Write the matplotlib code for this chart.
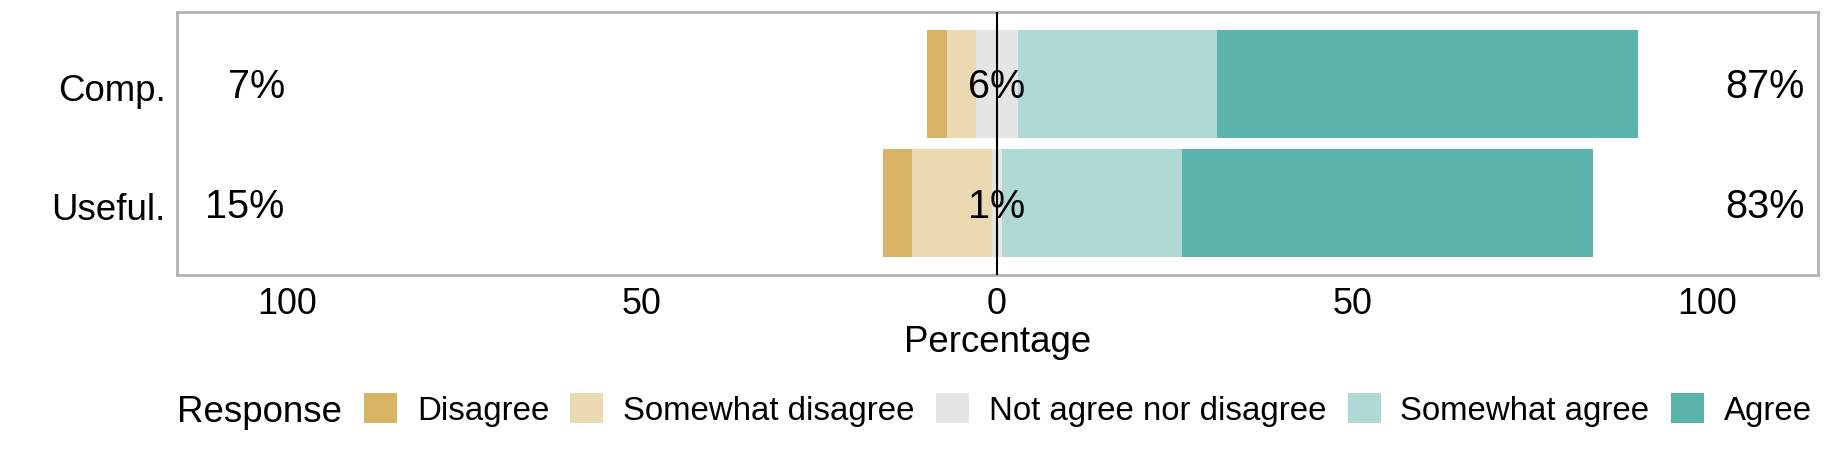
import matplotlib
matplotlib.use("Agg")
import matplotlib.pyplot as plt
import numpy as np

plt.rcParams['font.family'] = ['Liberation Sans', 'DejaVu Sans']

# survey items, top row first
items = ["Comp.", "Useful."]
responses = ["Disagree", "Somewhat disagree", "Not agree nor disagree",
             "Somewhat agree", "Agree"]
colors = ["#D8B365", "#EBD9B2", "#E5E5E5", "#AED9D5", "#5AB4AC"]

# percentages per response level
disagree = [2.8, 4.2]
somewhat_disagree = [4.2, 11.2]
neutral = [5.8, 1.4]
somewhat_agree = [28.1, 25.4]
agree = [59.2, 57.8]

values = np.array([disagree, somewhat_disagree, neutral, somewhat_agree, agree])

fig = plt.figure(figsize=(18.3, 4.5), dpi=100)
ax = fig.add_axes([176.7 / 1830, 1 - 275 / 450, (1818 - 176.7) / 1830, (275 - 12) / 450])

ypos = np.array([2, 1])
left = -(values[0] + values[1] + values[2] / 2)
for i in range(len(responses)):
    ax.barh(ypos, values[i], left=left, height=0.9, color=colors[i],
            label=responses[i], zorder=2)
    left = left + values[i]

ax.axvline(0, color="black", lw=1.5, zorder=3)

low = values[0] + values[1]
high = values[3] + values[4]
for j in range(len(items)):
    ax.text(-100.3, ypos[j] - 0.03, "%d%%" % round(low[j]), ha="right", va="center",
            fontsize=28.5, zorder=4)
    ax.text(0, ypos[j] - 0.03, "%d%%" % round(values[2][j]), ha="center", va="center",
            fontsize=28.5, zorder=4)
    ax.text(102.6, ypos[j] - 0.03, "%d%%" % round(high[j]), ha="left", va="center",
            fontsize=28.5, zorder=4)

ax.set_xlim(-115.5, 115.6)
ax.set_ylim(0.4, 2.6)
ax.set_yticks(ypos - 0.03)
ax.set_yticklabels(items, fontsize=26.4)
ax.set_xticks([-100, -50, 0, 50, 100])
ax.set_xticklabels(["100", "50", "0", "50", "100"], fontsize=25.8)
ax.tick_params(axis="both", length=0)
ax.tick_params(axis="x", pad=9)
ax.tick_params(axis="y", pad=8)
ax.set_xlabel("Percentage", fontsize=26.4, labelpad=2)
for s in ax.spines.values():
    s.set_color("#B3B3B3")
    s.set_linewidth(2)

fig.text(177 / 1830, 1 - 412 / 450, "Response", fontsize=26.4, ha="left", va="center")
handles, labels = ax.get_legend_handles_labels()
fig.legend(handles, labels, loc="center left", bbox_to_anchor=(364 / 1830, 1 - 410 / 450),
           ncol=5, frameon=False, fontsize=23.8, borderpad=0, borderaxespad=0,
           handlelength=1.0, handleheight=1.0, handletextpad=0.6, columnspacing=0.64)

fig.savefig("out.png", dpi=100)
